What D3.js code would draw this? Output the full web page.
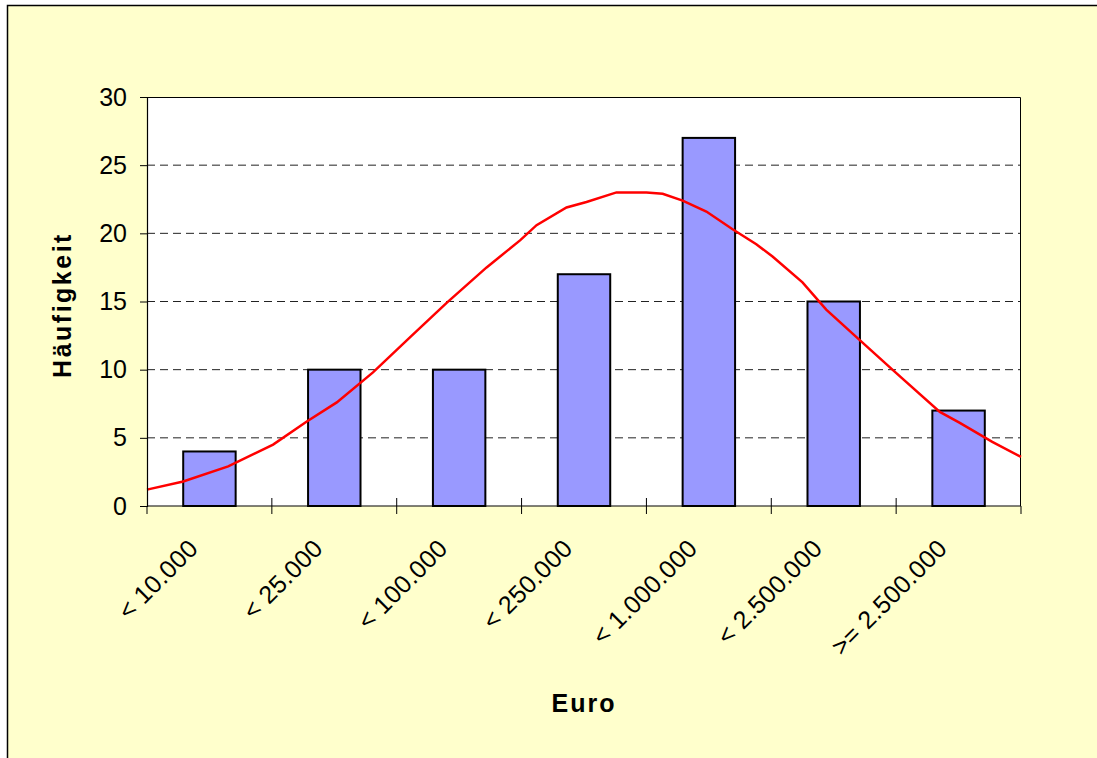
<!DOCTYPE html>
<html>
<head>
<meta charset="utf-8">
<script src="https://cdn.jsdelivr.net/npm/d3@7"></script>
<style>
  body { margin: 0; background: #fff; }
  text { font-family: Arial, "Liberation Sans", sans-serif; }
</style>
</head>
<body>
<div id="chart"></div>
<script>
// categories + frequencies
const categories = ["< 10.000", "< 25.000", "< 100.000", "< 250.000", "< 1.000.000", "< 2.500.000", ">= 2.500.000"];
const counts = [4, 10, 10, 17, 27, 15, 7];
const yTicks = [0, 5, 10, 15, 20, 25, 30];

// normal curve, x in category units (0 = left edge of plot, 7 = right edge)
const curveX = [0, 0.29, 0.65, 1.01, 1.28, 1.52, 1.81, 2.11, 2.40, 2.72, 2.99, 3.12, 3.36, 3.52, 3.76,
                4.00, 4.13, 4.29, 4.48, 4.69, 4.88, 5.01, 5.25, 5.44, 5.68, 5.97, 6.35, 6.51, 6.77, 7.0];
const curveY = [1.2, 1.8, 2.9, 4.5, 6.2, 7.6, 9.8, 12.4, 14.9, 17.5, 19.5, 20.6, 21.9, 22.3, 23.0,
                23.0, 22.9, 22.4, 21.6, 20.3, 19.2, 18.3, 16.4, 14.4, 12.4, 10.0, 6.9, 6.1, 4.7, 3.6];

const W = 1097, H = 758;
const margin = { top: 97, right: W - 1021, bottom: H - 506, left: 147 };
const width = W - margin.left - margin.right,
      height = H - margin.top - margin.bottom;

const svg = d3.select("#chart").append("svg")
    .attr("width", W)
    .attr("height", H);

// chart area background
svg.append("rect")
    .attr("x", 7.5).attr("y", 5.5)
    .attr("width", W + 10).attr("height", H + 10)
    .attr("fill", "#FFFFCC")
    .attr("stroke", "#000")
    .attr("stroke-width", 1.5);

const g = svg.append("g")
    .attr("transform", "translate(" + margin.left + "," + margin.top + ")");

// plot area
g.append("rect")
    .attr("width", width).attr("height", height)
    .attr("fill", "#fff");

const x = d3.scaleBand()
    .domain(categories)
    .range([0, width])
    .paddingInner(0.58)
    .paddingOuter(0.29);

const xLin = d3.scaleLinear().domain([0, categories.length]).range([0, width]);

const y = d3.scaleLinear()
    .domain([0, 30])
    .range([height, 0]);

// dashed gridlines
g.selectAll(".grid")
    .data(yTicks.filter(d => d > 0 && d < 30))
    .enter().append("line")
    .attr("x1", 0).attr("x2", width)
    .attr("y1", d => y(d)).attr("y2", d => y(d))
    .attr("stroke", "#222")
    .attr("stroke-width", 1)
    .attr("stroke-dasharray", "8,5");

// top + right border of plot
g.append("path")
    .attr("d", "M0,0.5H" + (width - 0.5) + "V" + height)
    .attr("fill", "none")
    .attr("stroke", "#000")
    .attr("stroke-width", 1);

// bars
g.selectAll(".bar")
    .data(counts)
    .enter().append("rect")
    .attr("x", (d, i) => x(categories[i]))
    .attr("y", d => y(d))
    .attr("width", x.bandwidth())
    .attr("height", d => height - y(d))
    .attr("fill", "#9999FF")
    .attr("stroke", "#000")
    .attr("stroke-width", 2);

// curve
const line = d3.line()
    .x(d => xLin(d[0]))
    .y(d => y(d[1]));
g.append("path")
    .datum(curveX.map((v, i) => [v, curveY[i]]))
    .attr("d", line)
    .attr("fill", "none")
    .attr("stroke", "#FF0000")
    .attr("stroke-width", 2.5);

// y axis
const yAxis = g.append("g")
    .call(d3.axisLeft(y).tickValues(yTicks).tickSize(7).tickPadding(13));
yAxis.select(".domain").attr("stroke", "#000").attr("stroke-width", 1.2);
yAxis.selectAll("text")
    .attr("font-size", 25)
    .attr("font-family", "Arial, 'Liberation Sans', sans-serif")
    .attr("fill", "#000");

// x axis: ticks at category boundaries, crossing the axis
const xAxis = g.append("g").attr("transform", "translate(0," + height + ")");
xAxis.append("line")
    .attr("x1", 0).attr("x2", width)
    .attr("stroke", "#000").attr("stroke-width", 1.2);
xAxis.selectAll(".tick")
    .data(d3.range(categories.length + 1))
    .enter().append("line")
    .attr("x1", d => xLin(d)).attr("x2", d => xLin(d))
    .attr("y1", d => (d === 0 || d === categories.length) ? 0 : -8)
    .attr("y2", 8)
    .attr("stroke", "#000")
    .attr("stroke-width", 1);

xAxis.selectAll(".lbl")
    .data(categories)
    .enter().append("text")
    .attr("transform", d => "translate(" + (x(d) + x.bandwidth() / 2 - 10) + ",44) rotate(-45)")
    .attr("text-anchor", "end")
    .attr("font-size", 25)
    .attr("letter-spacing", 0.3)
    .attr("fill", "#000")
    .text(d => d);

// axis titles
svg.append("text")
    .attr("transform", "translate(71,305) rotate(-90)")
    .attr("text-anchor", "middle")
    .attr("font-size", 25)
    .attr("font-weight", "bold")
    .attr("letter-spacing", 2.5)
    .text("Häufigkeit");

svg.append("text")
    .attr("x", 584).attr("y", 712)
    .attr("text-anchor", "middle")
    .attr("font-size", 25)
    .attr("font-weight", "bold")
    .attr("letter-spacing", 2)
    .text("Euro");
</script>
</body>
</html>
